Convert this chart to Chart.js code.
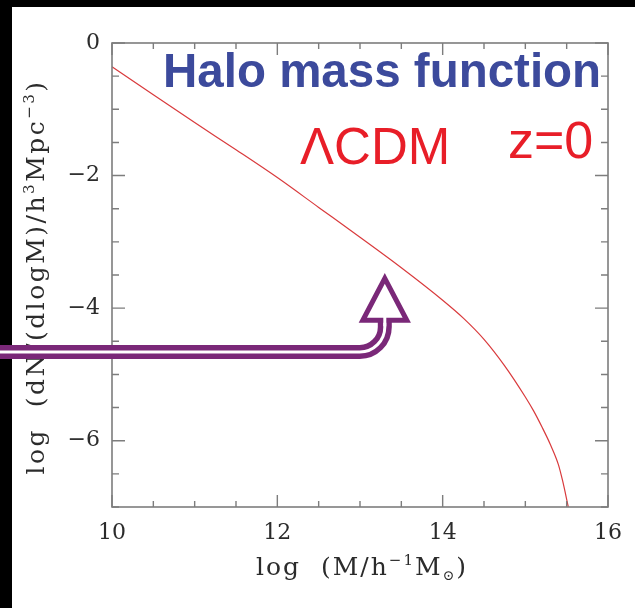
<!DOCTYPE html>
<html><head><meta charset="utf-8">
<script src="https://cdn.jsdelivr.net/npm/chart.js@4/dist/chart.umd.min.js"></script>
<style>html,body{margin:0;padding:0;background:#fff;overflow:hidden}canvas{display:block}</style>
</head><body>
<canvas id="c" width="635" height="608"></canvas>
<script>
// ---- data ----
const logMass = [10.0, 10.5, 11.0, 11.5, 12.0, 12.5, 13.0, 13.5, 14.0, 14.25, 14.5, 14.75, 15.0, 15.1, 15.2, 15.3, 15.4, 15.45, 15.52];
const logDnDlogM = [-0.36, -0.78, -1.20, -1.61, -2.03, -2.48, -2.93, -3.39, -3.88, -4.15, -4.47, -4.87, -5.34, -5.55, -5.79, -6.05, -6.36, -6.60, -7.0];
const xTickValues = [10, 12, 14, 16];
const xTickLabels = ['10', '12', '14', '16'];
const yTickValues = [0, -2, -4, -6];
const yTickLabels = ['0', '\u22122', '\u22124', '\u22126'];
const titleText = 'Halo mass function';
const modelText = '\u039BCDM';
const redshiftText = 'z=0';
// arrow annotation anchor (data units)
const arrowTip = {x: 13.3, y: -3.55};
const arrowShaftY = -4.66;

const AXIS = '#7d7d7d';
function labelFor(v, vals, labs) {
  for (let i = 0; i < vals.length; i++) if (Math.abs(v - vals[i]) < 1e-6) return labs[i];
  return '';
}
function isMajor(v, vals) { return vals.some(t => Math.abs(v - t) < 1e-6); }

function drawRuns(ctx, runs, cx, cy, rot, spacing) {
  ctx.save();
  ctx.translate(cx, cy);
  ctx.rotate(rot);
  ctx.textBaseline = 'alphabetic';
  ctx.textAlign = 'left';
  let total = 0;
  const ws = runs.map(r => {
    ctx.font = r.size + 'px "DejaVu Serif"';
    ctx.letterSpacing = spacing + 'px';
    const w = ctx.measureText(r.t).width;
    total += w;
    return w;
  });
  let x = -total / 2;
  runs.forEach((r, i) => {
    ctx.font = r.size + 'px "DejaVu Serif"';
    ctx.letterSpacing = spacing + 'px';
    ctx.fillText(r.t, x, 8 + (r.dy || 0));
    x += ws[i];
  });
  ctx.restore();
}

const deco = {
  id: 'deco',
  beforeDraw(chart) {
    const ctx = chart.ctx;
    ctx.save();
    ctx.fillStyle = '#fff';
    ctx.fillRect(0, 0, chart.width, chart.height);
    ctx.fillStyle = '#000';
    ctx.fillRect(0, 0, chart.width, 7);
    ctx.fillRect(0, 0, 12, chart.height);
    ctx.restore();
  },
  afterDraw(chart) {
    const ctx = chart.ctx;
    const a = chart.chartArea;
    const xs = chart.scales.x, ys = chart.scales.y;
    ctx.save();
    // frame
    ctx.strokeStyle = AXIS;
    ctx.lineWidth = 1.6;
    ctx.strokeRect(a.left, a.top, a.right - a.left, a.bottom - a.top);
    // inward ticks on all four sides
    ctx.lineWidth = 1.4;
    ctx.beginPath();
    xs.ticks.forEach(t => {
      const px = xs.getPixelForValue(t.value);
      const L = isMajor(t.value, xTickValues) ? 12 : 6;
      ctx.moveTo(px, a.bottom); ctx.lineTo(px, a.bottom - L);
      ctx.moveTo(px, a.top); ctx.lineTo(px, a.top + L);
    });
    ys.ticks.forEach(t => {
      const py = ys.getPixelForValue(t.value);
      const L = isMajor(t.value, yTickValues) ? 13 : 7;
      ctx.moveTo(a.left, py); ctx.lineTo(a.left + L, py);
      ctx.moveTo(a.right, py); ctx.lineTo(a.right - L, py);
    });
    ctx.stroke();

    // axis titles
    ctx.fillStyle = '#2b2b2b';
    drawRuns(ctx, [
      {t: 'log  (M/h', size: 25},
      {t: '\u22121', size: 15, dy: -10},
      {t: 'M', size: 25},
      {t: '\u2299', size: 14, dy: 5},
      {t: ')', size: 25}
    ], (a.left + a.right) / 2 + 2, 567, 0, 2);
    drawRuns(ctx, [
      {t: 'log  (dN/(dlogM)/h', size: 25},
      {t: '3', size: 15, dy: -10},
      {t: 'Mpc', size: 25},
      {t: '\u22123', size: 15, dy: -10},
      {t: ')', size: 25}
    ], 36, (a.top + a.bottom) / 2 + 2, -Math.PI / 2, 2.5);

    // annotations
    ctx.letterSpacing = '0px';
    ctx.textBaseline = 'alphabetic';
    ctx.textAlign = 'left';
    ctx.fillStyle = '#3c4a9c';
    ctx.font = 'bold 47.5px "Liberation Sans", Arial, sans-serif';
    ctx.fillText(titleText, 163, 87);
    ctx.fillStyle = '#e81e28';
    ctx.font = '51px "Liberation Sans", Arial, sans-serif';
    ctx.fillText(modelText, 300, 164);
    ctx.font = '52px "Liberation Sans", Arial, sans-serif';
    ctx.fillText(redshiftText, 508, 158);

    // purple hollow arrow
    const tipX = xs.getPixelForValue(arrowTip.x);
    const tipY = ys.getPixelForValue(arrowTip.y);
    const shY = ys.getPixelForValue(arrowShaftY);
    const baseY = tipY + 42, r = 25;
    const P = '#7a2878';
    ctx.beginPath();
    ctx.moveTo(0, shY);
    ctx.lineTo(tipX - r, shY);
    ctx.arcTo(tipX, shY, tipX, shY - r, r);
    ctx.lineTo(tipX, baseY - 2);
    ctx.lineCap = 'butt';
    ctx.strokeStyle = P; ctx.lineWidth = 14; ctx.stroke();
    ctx.strokeStyle = '#fff'; ctx.lineWidth = 3; ctx.stroke();
    ctx.beginPath();
    ctx.moveTo(tipX, tipY);
    ctx.lineTo(tipX + 22, baseY);
    ctx.lineTo(tipX - 22, baseY);
    ctx.closePath();
    ctx.fillStyle = '#fff'; ctx.fill();
    ctx.lineJoin = 'miter';
    ctx.strokeStyle = P; ctx.lineWidth = 5; ctx.stroke();
    ctx.beginPath();
    ctx.moveTo(tipX, baseY + 6); ctx.lineTo(tipX, baseY - 6);
    ctx.strokeStyle = '#fff'; ctx.lineWidth = 3; ctx.stroke();
    ctx.restore();
  }
};

new Chart(document.getElementById('c'), {
  type: 'line',
  data: {
    datasets: [{
      data: logMass.map((m, i) => ({x: m, y: logDnDlogM[i]})),
      borderColor: '#d93a3c',
      borderWidth: 1.2,
      pointRadius: 0,
      fill: false,
      cubicInterpolationMode: 'monotone'
    }]
  },
  options: {
    responsive: false,
    animation: false,
    events: [],
    layout: {padding: {top: 43, right: 23, left: 0, bottom: 0}},
    plugins: {legend: {display: false}, tooltip: {enabled: false}},
    scales: {
      x: {
        type: 'linear', min: 10, max: 16,
        border: {display: false},
        grid: {display: false, drawTicks: false},
        ticks: {
          stepSize: 0.5, autoSkip: false, maxRotation: 0, padding: 13,
          color: '#2b2b2b', font: {family: '"DejaVu Serif"', size: 22},
          callback: v => labelFor(v, xTickValues, xTickLabels)
        },
        afterFit: s => { s.height = 101; }
      },
      y: {
        type: 'linear', min: -7, max: 0,
        border: {display: false},
        grid: {display: false, drawTicks: false},
        ticks: {
          stepSize: 0.5, autoSkip: false, padding: 12,
          color: '#2b2b2b', font: {family: '"DejaVu Serif"', size: 22},
          callback: v => labelFor(v, yTickValues, yTickLabels)
        },
        afterFit: s => { s.width = 112; }
      }
    }
  },
  plugins: [deco]
});
</script>
</body></html>
